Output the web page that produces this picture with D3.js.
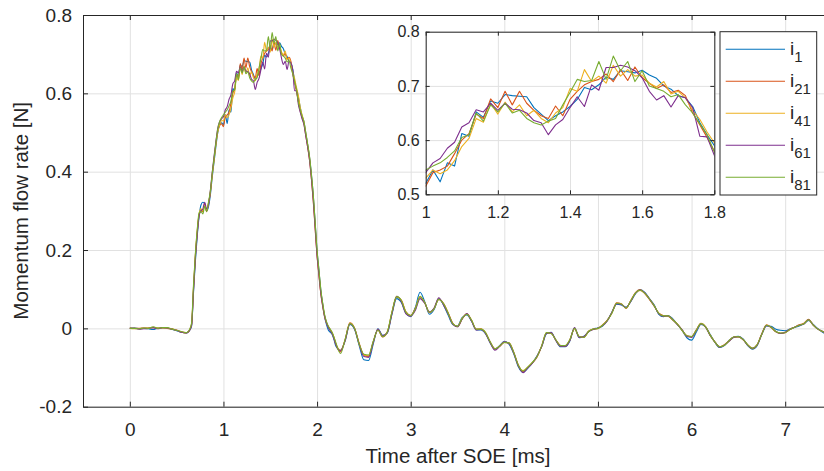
<!DOCTYPE html>
<html><head><meta charset="utf-8">
<script src="https://cdn.jsdelivr.net/npm/d3@7/dist/d3.min.js"></script>
<style>
body{margin:0;background:#fff;}
svg{display:block;font-family:"Liberation Sans",Arial,Helvetica,sans-serif;}
</style></head><body>
<svg id="chart" width="824" height="471"></svg>
<script>
// ---------------- data ----------------
const seriesNames = ["1", "21", "41", "61", "81"];
const seriesColors = ["#0072BD", "#D95319", "#EDB120", "#7E2F8E", "#77AC30"];
const xTicks = [0, 1, 2, 3, 4, 5, 6, 7];
const xTickLabels = ["0", "1", "2", "3", "4", "5", "6", "7"];
const yTicks = [-0.2, 0, 0.2, 0.4, 0.6, 0.8];
const yTickLabels = ["-0.2", "0", "0.2", "0.4", "0.6", "0.8"];
const insetXTicks = [1, 1.2, 1.4, 1.6, 1.8];
const insetXTickLabels = ["1", "1.2", "1.4", "1.6", "1.8"];
const insetYTicks = [0.5, 0.6, 0.7, 0.8];
const insetYTickLabels = ["0.5", "0.6", "0.7", "0.8"];
const xLabel = "Time after SOE [ms]";
const yLabel = "Momentum flow rate [N]";

// sample times [ms]: 0–0.55 every 0.05, 0.60–2.20 every 0.02, 2.25–7.50 every 0.05
const timePre = d3.range(12).map(i => +(i * 0.05).toFixed(2));
const timeFine = d3.range(81).map(i => +(0.6 + i * 0.02).toFixed(2));
const timeTail = d3.range(106).map(i => +(2.25 + i * 0.05).toFixed(2));
const time = timePre.concat(timeFine, timeTail);

const i1 = [
 0.000,0.001,-0.001,0.000,-0.001,-0.003,0.001,0.002,0.001,-0.002,-0.006,-0.010,
 -0.012,-0.010,-0.005,0.006,0.090,0.170,0.235,0.285,0.315,0.322,0.318,0.300,0.310,0.340,0.385,0.425,0.465,0.500,0.520,0.525,
 0.520,0.545,0.523,0.558,0.552,0.612,0.607,0.652,0.642,0.672,0.668,0.684,0.682,0.681,0.680,0.660,0.648,0.636,0.645,0.652,0.662,0.675,0.697,0.693,0.702,0.716,0.712,0.728,0.726,0.724,0.729,0.720,0.714,0.700,0.694,0.682,0.678,0.662,0.632,0.610,0.590,
 0.565,0.542,0.528,0.498,0.468,0.436,0.392,0.338,0.268,0.198,0.148,0.098,0.062,0.030,0.010,-0.004,-0.010,-0.015,-0.028,-0.045,
 -0.056,-0.032,0.010,-0.002,-0.044,-0.080,-0.082,-0.040,-0.001,-0.018,
 -0.012,0.036,0.076,0.066,0.038,0.030,0.054,0.092,0.068,0.036,
 0.048,0.076,0.060,0.034,0.010,0.006,0.028,0.034,0.018,-0.004,
 -0.004,-0.014,-0.038,-0.054,-0.044,-0.033,-0.040,-0.064,-0.098,-0.112,
 -0.102,-0.088,-0.070,-0.046,-0.014,-0.010,-0.030,-0.047,-0.047,-0.032,
 0.001,-0.024,-0.020,-0.009,-0.001,0.001,0.006,0.020,0.042,0.062,
 0.060,0.054,0.068,0.088,0.099,0.092,0.076,0.060,0.036,0.030,
 0.033,0.024,0.010,-0.006,-0.024,-0.030,-0.010,0.010,0.004,-0.016,
 -0.036,-0.049,-0.044,-0.031,-0.022,-0.020,-0.027,-0.044,-0.053,-0.044,
 -0.016,0.006,0.005,-0.002,-0.005,-0.006,-0.002,0.002,0.006,0.012,
 0.020,0.010,-0.001,-0.010,-0.016,-0.020
];
const i21 = [
 0.001,0.000,0.000,0.001,0.001,0.002,0.000,0.002,0.000,-0.002,-0.005,-0.009,
 -0.011,-0.010,-0.004,0.010,0.100,0.185,0.245,0.290,0.300,0.298,0.318,0.298,0.318,0.345,0.392,0.432,0.472,0.505,0.518,0.522,
 0.515,0.540,0.545,0.552,0.575,0.600,0.612,0.648,0.640,0.676,0.660,0.690,0.665,0.690,0.668,0.655,0.645,0.640,0.663,0.645,0.675,0.690,0.702,0.708,0.712,0.722,0.708,0.730,0.710,0.735,0.715,0.705,0.695,0.702,0.688,0.692,0.682,0.650,0.628,0.605,0.580,
 0.555,0.538,0.522,0.492,0.462,0.428,0.380,0.322,0.252,0.184,0.134,0.088,0.056,0.030,0.014,0.004,-0.004,-0.012,-0.024,-0.040,
 -0.060,-0.028,0.014,0.001,-0.038,-0.068,-0.072,-0.034,-0.004,-0.022,
 -0.010,0.040,0.080,0.072,0.042,0.033,0.052,0.080,0.066,0.040,
 0.050,0.074,0.064,0.040,0.013,0.004,0.024,0.037,0.020,-0.002,
 -0.001,-0.012,-0.035,-0.052,-0.046,-0.036,-0.037,-0.060,-0.094,-0.110,
 -0.100,-0.088,-0.073,-0.044,-0.012,-0.013,-0.029,-0.044,-0.046,-0.030,
 -0.001,-0.021,-0.023,-0.008,-0.002,0.000,0.009,0.021,0.040,0.065,
 0.063,0.051,0.071,0.091,0.099,0.089,0.074,0.057,0.039,0.033,
 0.031,0.021,0.011,-0.005,-0.019,-0.021,-0.004,0.013,0.004,-0.018,
 -0.035,-0.047,-0.042,-0.032,-0.022,-0.022,-0.029,-0.042,-0.052,-0.042,
 -0.014,0.009,0.002,-0.009,-0.013,-0.011,-0.003,0.003,0.009,0.013,
 0.023,0.008,-0.002,-0.008,-0.014,-0.018
];
const i41 = [
 0.000,-0.001,-0.001,0.000,0.001,0.003,0.001,0.001,0.001,-0.001,-0.004,-0.009,
 -0.012,-0.009,-0.003,0.012,0.105,0.185,0.250,0.292,0.305,0.300,0.315,0.302,0.320,0.348,0.390,0.430,0.470,0.502,0.520,0.530,
 0.530,0.545,0.538,0.545,0.562,0.588,0.603,0.640,0.633,0.668,0.648,0.670,0.652,0.665,0.645,0.655,0.640,0.632,0.650,0.660,0.695,0.690,0.730,0.708,0.718,0.705,0.738,0.718,0.730,0.718,0.720,0.705,0.698,0.708,0.685,0.690,0.678,0.655,0.638,0.615,0.595,
 0.565,0.545,0.528,0.497,0.468,0.435,0.388,0.334,0.264,0.192,0.142,0.094,0.062,0.034,0.016,0.004,-0.003,-0.010,-0.022,-0.038,
 -0.056,-0.030,0.013,0.000,-0.040,-0.068,-0.070,-0.035,-0.003,-0.020,
 -0.009,0.042,0.082,0.071,0.041,0.032,0.049,0.082,0.065,0.041,
 0.051,0.075,0.063,0.039,0.012,0.005,0.026,0.036,0.021,-0.003,
 -0.002,-0.011,-0.036,-0.053,-0.045,-0.035,-0.038,-0.062,-0.094,-0.108,
 -0.099,-0.087,-0.072,-0.045,-0.011,-0.012,-0.030,-0.045,-0.044,-0.029,
 0.000,-0.022,-0.022,-0.007,-0.002,0.000,0.008,0.020,0.040,0.064,
 0.062,0.052,0.070,0.090,0.097,0.090,0.075,0.058,0.038,0.032,
 0.032,0.022,0.010,-0.005,-0.020,-0.021,-0.005,0.012,0.004,-0.018,
 -0.035,-0.047,-0.043,-0.032,-0.022,-0.021,-0.028,-0.042,-0.050,-0.042,
 -0.015,0.008,0.003,-0.008,-0.012,-0.010,-0.002,0.003,0.008,0.012,
 0.022,0.008,-0.002,-0.008,-0.014,-0.018
];
const i61 = [
 0.000,0.000,-0.002,-0.001,0.000,0.002,-0.001,0.002,0.001,-0.002,-0.005,-0.010,
 -0.012,-0.010,-0.004,0.008,0.095,0.178,0.240,0.288,0.300,0.305,0.322,0.305,0.315,0.352,0.398,0.440,0.478,0.512,0.528,0.535,
 0.540,0.558,0.566,0.585,0.596,0.624,0.632,0.656,0.652,0.668,0.655,0.668,0.657,0.656,0.650,0.636,0.632,0.610,0.628,0.638,0.660,0.680,0.662,0.702,0.692,0.734,0.734,0.738,0.735,0.728,0.715,0.690,0.674,0.682,0.661,0.682,0.678,0.660,0.607,0.606,0.572,
 0.552,0.535,0.520,0.490,0.462,0.430,0.382,0.326,0.256,0.186,0.138,0.090,0.058,0.032,0.015,0.002,-0.006,-0.013,-0.026,-0.041,
 -0.057,-0.031,0.011,-0.001,-0.041,-0.072,-0.074,-0.036,-0.002,-0.019,
 -0.011,0.038,0.082,0.068,0.037,0.031,0.046,0.076,0.064,0.042,
 0.052,0.078,0.060,0.037,0.011,0.004,0.024,0.038,0.019,-0.004,
 -0.003,-0.013,-0.037,-0.056,-0.046,-0.034,-0.039,-0.063,-0.096,-0.113,
 -0.101,-0.089,-0.071,-0.046,-0.013,-0.011,-0.031,-0.046,-0.046,-0.031,
 0.002,-0.023,-0.021,-0.008,-0.003,0.001,0.007,0.019,0.041,0.063,
 0.061,0.053,0.069,0.089,0.098,0.091,0.075,0.058,0.037,0.031,
 0.032,0.022,0.009,-0.004,-0.021,-0.023,-0.006,0.011,0.003,-0.019,
 -0.035,-0.048,-0.043,-0.033,-0.023,-0.021,-0.028,-0.043,-0.051,-0.043,
 -0.015,0.007,0.003,-0.008,-0.013,-0.010,-0.002,0.003,0.008,0.011,
 0.022,0.008,-0.002,-0.008,-0.015,-0.019
];
const i81 = [
 0.000,0.000,-0.001,0.001,0.000,0.004,0.000,0.002,0.002,-0.002,-0.005,-0.008,
 -0.011,-0.009,-0.002,0.014,0.110,0.190,0.252,0.295,0.298,0.292,0.312,0.298,0.322,0.350,0.395,0.435,0.475,0.510,0.528,0.538,
 0.545,0.552,0.558,0.568,0.580,0.605,0.610,0.650,0.635,0.665,0.652,0.668,0.650,0.655,0.640,0.632,0.628,0.635,0.640,0.665,0.688,0.712,0.708,0.710,0.745,0.712,0.755,0.728,0.745,0.708,0.728,0.700,0.695,0.690,0.680,0.684,0.665,0.650,0.630,0.610,0.578,
 0.558,0.542,0.526,0.498,0.470,0.438,0.392,0.340,0.270,0.200,0.150,0.100,0.065,0.036,0.018,0.006,-0.002,-0.010,-0.022,-0.036,
 -0.064,-0.028,0.012,0.000,-0.040,-0.066,-0.068,-0.033,-0.004,-0.021,
 -0.009,0.042,0.081,0.071,0.041,0.033,0.050,0.081,0.066,0.041,
 0.050,0.074,0.063,0.039,0.012,0.005,0.025,0.036,0.021,-0.002,
 -0.002,-0.011,-0.035,-0.052,-0.045,-0.036,-0.037,-0.061,-0.094,-0.109,
 -0.099,-0.087,-0.072,-0.044,-0.011,-0.013,-0.029,-0.044,-0.044,-0.029,
 0.000,-0.021,-0.023,-0.008,-0.002,0.000,0.008,0.020,0.039,0.064,
 0.062,0.052,0.070,0.090,0.098,0.090,0.075,0.058,0.038,0.032,
 0.032,0.022,0.010,-0.005,-0.019,-0.021,-0.005,0.012,0.004,-0.018,
 -0.035,-0.047,-0.043,-0.032,-0.022,-0.021,-0.028,-0.042,-0.051,-0.042,
 -0.015,0.008,0.003,-0.008,-0.012,-0.011,-0.003,0.003,0.008,0.012,
 0.022,0.008,-0.002,-0.008,-0.014,-0.018
];
const seriesValues = [i1, i21, i41, i61, i81];

// ---------------- layout ----------------
const FONT = '"Liberation Sans", Arial, Helvetica, sans-serif';
const AX = "#262626", GRID = "#e1e1e1", TXT = "#262626";
const svg = d3.select("#chart");
svg.append("rect").attr("width", 824).attr("height", 471).attr("fill", "#fff");

const x = d3.scaleLinear().domain([-0.5, 7.5]).range([83, 832]);
const y = d3.scaleLinear().domain([-0.2, 0.8]).range([406.7, 15]);
const [x0, x1] = x.range(), [y0, y1] = y.range();

const series = seriesValues.map((vals, k) => ({
  name: seriesNames[k], color: seriesColors[k],
  pts: time.map((t, i) => ({t, v: vals[i]}))
}));

// grid
svg.append("g").attr("transform", `translate(0,${y0})`)
  .call(d3.axisBottom(x).tickValues(xTicks).tickSize(-(y0 - y1)).tickFormat(""))
  .call(g => { g.select(".domain").remove(); g.selectAll("line").attr("stroke", GRID).attr("stroke-width", 1); });
svg.append("g").attr("transform", `translate(${x0},0)`)
  .call(d3.axisLeft(y).tickValues(yTicks).tickSize(-(x1 - x0)).tickFormat(""))
  .call(g => { g.select(".domain").remove(); g.selectAll("line").attr("stroke", GRID).attr("stroke-width", 1); });

// clip for main series
svg.append("clipPath").attr("id", "mainClip").append("rect")
  .attr("x", x0).attr("y", y1).attr("width", x1 - x0).attr("height", y0 - y1);

const mainLine = d3.line().x(d => x(d.t)).y(d => y(d.v)).curve(d3.curveMonotoneX);
svg.append("g").attr("clip-path", "url(#mainClip)")
  .selectAll("path").data(series).join("path")
  .attr("d", d => mainLine(d.pts)).attr("fill", "none")
  .attr("stroke", d => d.color).attr("stroke-width", 1.1).attr("stroke-linejoin", "round");

// main axes (ticks pointing inward)
function styleAxis(g, fs) {
  g.attr("font-family", FONT).attr("font-size", fs);
  g.select(".domain").attr("stroke", AX).attr("stroke-width", 1);
  g.selectAll(".tick line").attr("stroke", AX);
  g.selectAll(".tick text").attr("fill", TXT);
}
svg.append("g").attr("transform", `translate(0,${y0})`)
  .call(d3.axisBottom(x).tickValues(xTicks).tickFormat((d, i) => xTickLabels[i])
    .tickSizeInner(-5).tickSizeOuter(0).tickPadding(16))
  .call(g => styleAxis(g, 19));
svg.append("g").attr("transform", `translate(${x0},0)`)
  .call(d3.axisLeft(y).tickValues(yTicks).tickFormat((d, i) => yTickLabels[i])
    .tickSizeInner(-5).tickSizeOuter(0).tickPadding(11))
  .call(g => styleAxis(g, 19));
svg.append("g").attr("transform", `translate(0,${y1})`)
  .call(d3.axisTop(x).tickValues(xTicks).tickFormat("").tickSizeInner(-5).tickSizeOuter(0))
  .call(g => styleAxis(g, 19));

// axis titles
svg.append("text").attr("x", (83 + 832) / 2 - 0).attr("y", 463)
  .attr("text-anchor", "middle").attr("font-family", FONT).attr("font-size", 20.5)
  .attr("fill", TXT).text(xLabel).attr("x", 458);
svg.append("text").attr("transform", `translate(28,${(y0 + y1) / 2}) rotate(-90)`)
  .attr("text-anchor", "middle").attr("font-family", FONT).attr("font-size", 20.5)
  .attr("fill", TXT).text(yLabel);

// ---------------- inset ----------------
const xi = d3.scaleLinear().domain([1, 1.8]).range([425.7, 714.3]);
const yi = d3.scaleLinear().domain([0.5, 0.8]).range([194.3, 31.7]);
const [xi0, xi1] = xi.range(), [yi0, yi1] = yi.range();
svg.append("rect").attr("x", xi0).attr("y", yi1).attr("width", xi1 - xi0).attr("height", yi0 - yi1).attr("fill", "#fff");
svg.append("g").attr("transform", `translate(0,${yi0})`)
  .call(d3.axisBottom(xi).tickValues(insetXTicks).tickSize(-(yi0 - yi1)).tickFormat(""))
  .call(g => { g.select(".domain").remove(); g.selectAll("line").attr("stroke", GRID); });
svg.append("g").attr("transform", `translate(${xi0},0)`)
  .call(d3.axisLeft(yi).tickValues(insetYTicks).tickSize(-(xi1 - xi0)).tickFormat(""))
  .call(g => { g.select(".domain").remove(); g.selectAll("line").attr("stroke", GRID); });

svg.append("clipPath").attr("id", "insetClip").append("rect")
  .attr("x", xi0).attr("y", yi1).attr("width", xi1 - xi0).attr("height", yi0 - yi1);
const insetLine = d3.line().x(d => xi(d.t)).y(d => yi(d.v));
svg.append("g").attr("clip-path", "url(#insetClip)")
  .selectAll("path").data(series).join("path")
  .attr("d", d => insetLine(d.pts.filter(p => p.t >= 0.97 && p.t <= 1.83)))
  .attr("fill", "none").attr("stroke", d => d.color).attr("stroke-width", 1.1)
  .attr("stroke-linejoin", "round");

svg.append("g").attr("transform", `translate(0,${yi0})`)
  .call(d3.axisBottom(xi).tickValues(insetXTicks).tickFormat((d, i) => insetXTickLabels[i])
    .tickSizeInner(-4).tickSizeOuter(0).tickPadding(12.5))
  .call(g => styleAxis(g, 16));
svg.append("g").attr("transform", `translate(${xi0},0)`)
  .call(d3.axisLeft(yi).tickValues(insetYTicks).tickFormat((d, i) => insetYTickLabels[i])
    .tickSizeInner(-4).tickSizeOuter(0).tickPadding(6))
  .call(g => styleAxis(g, 16));
svg.append("g").attr("transform", `translate(0,${yi1})`)
  .call(d3.axisTop(xi).tickValues(insetXTicks).tickFormat("").tickSizeInner(-4).tickSizeOuter(0))
  .call(g => styleAxis(g, 16));
svg.append("g").attr("transform", `translate(${xi1},0)`)
  .call(d3.axisRight(yi).tickValues(insetYTicks).tickFormat("").tickSizeInner(-4).tickSizeOuter(0))
  .call(g => styleAxis(g, 16));

// ---------------- legend ----------------
const lg = {x: 720, y: 31.7, w: 96.7, h: 163.3, first: 49.3, step: 32};
svg.append("rect").attr("x", lg.x).attr("y", lg.y).attr("width", lg.w).attr("height", lg.h)
  .attr("fill", "#fff").attr("stroke", AX).attr("stroke-width", 1);
const items = svg.append("g").selectAll("g").data(series).join("g")
  .attr("transform", (d, i) => `translate(0,${lg.first + i * lg.step})`);
items.append("line").attr("x1", 725.7).attr("x2", 785).attr("y1", 0).attr("y2", 0)
  .attr("stroke", d => d.color).attr("stroke-width", 1.1);
const tx = items.append("text").attr("x", 790).attr("y", 5.5)
  .attr("font-family", FONT).attr("font-size", 19).attr("fill", TXT);
tx.append("tspan").text("i");
tx.append("tspan").attr("dy", 7).attr("font-size", 15).text(d => d.name);
</script>
</body></html>
